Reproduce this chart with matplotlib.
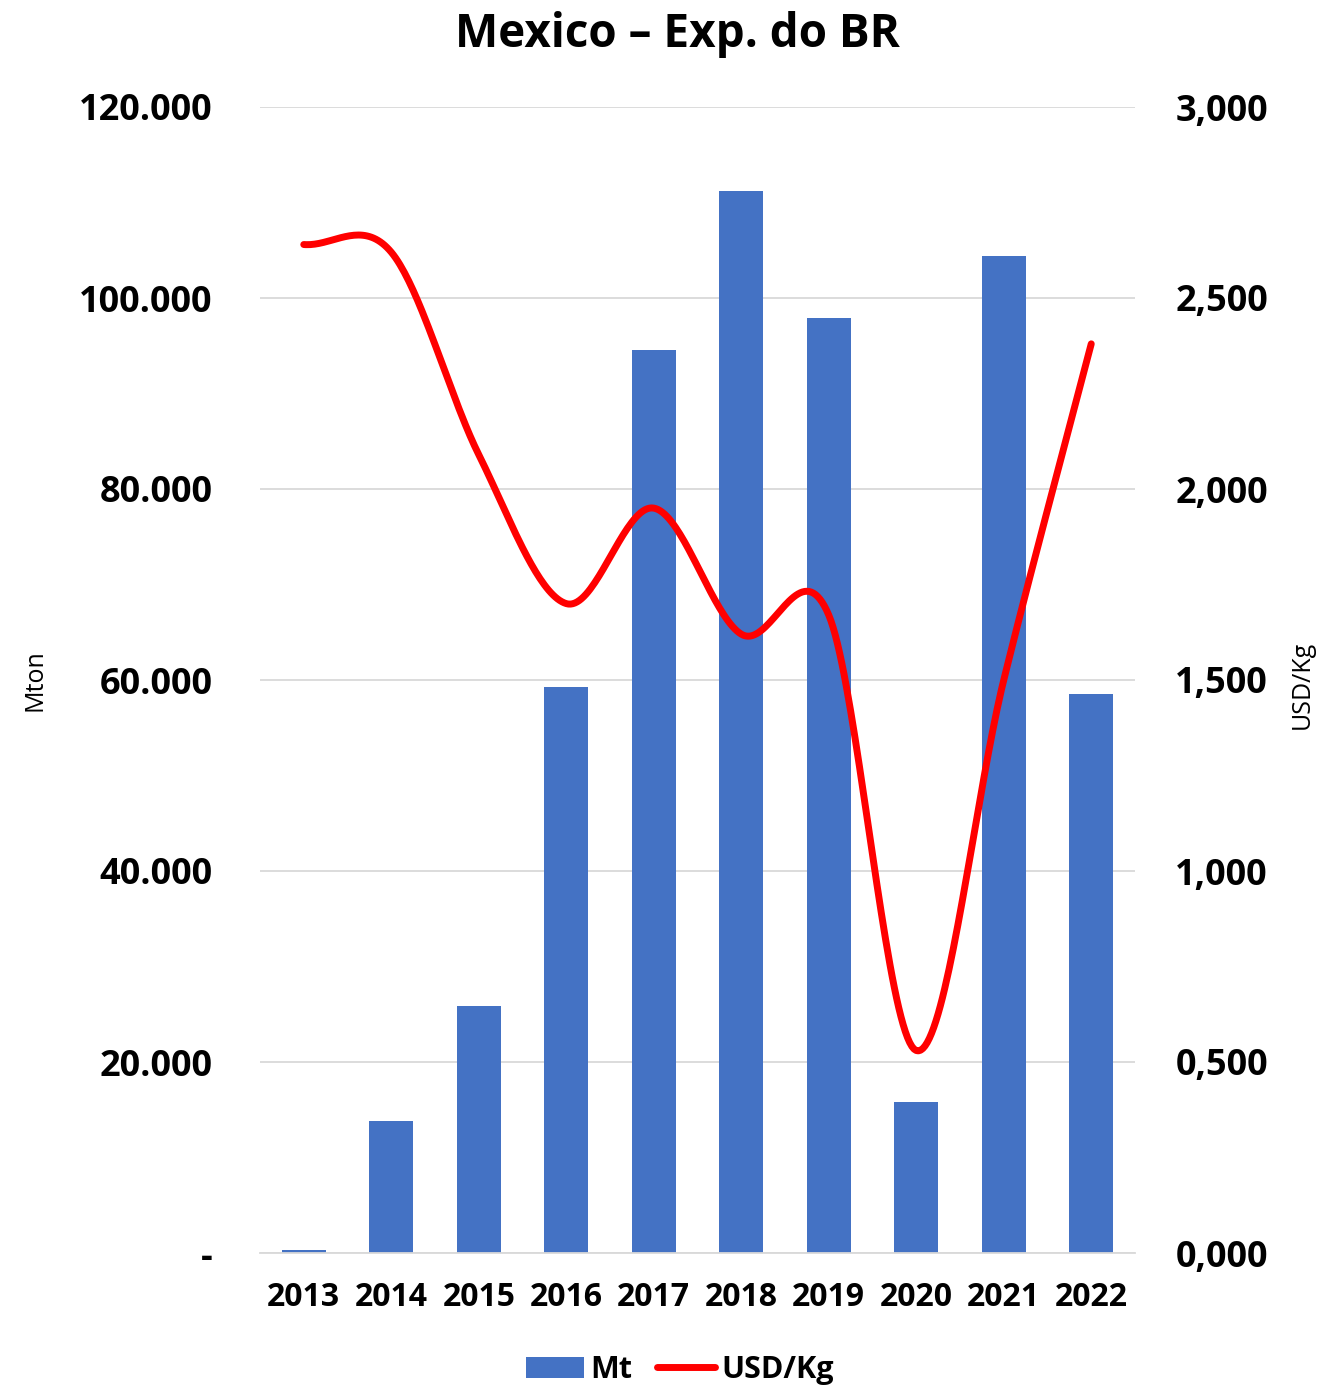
import matplotlib
matplotlib.use('Agg')
import matplotlib.pyplot as plt
from matplotlib.ticker import FuncFormatter
from matplotlib.lines import Line2D
from matplotlib.patches import Patch
import numpy as np

plt.rcParams['font.family'] = ['Open Sans', 'DejaVu Sans']

# dados
anos = ['2013', '2014', '2015', '2016', '2017', '2018', '2019', '2020', '2021', '2022']
mt = [300, 13800, 25900, 59300, 94600, 111200, 97900, 15800, 104400, 58500]
usd_kg = [2.64, 2.62, 2.09, 1.70, 1.95, 1.62, 1.67, 0.53, 1.50, 2.38]

azul = '#4472C4'
vermelho = '#FF0000'


def catmull_rom(y, n=40):
    # linha suavizada tipo Excel
    y = np.asarray(y, dtype=float)
    p = np.concatenate([[2 * y[0] - y[1]], y, [2 * y[-1] - y[-2]]])
    xs, ys = [], []
    for i in range(len(y) - 1):
        p0, p1, p2, p3 = p[i], p[i + 1], p[i + 2], p[i + 3]
        t = np.linspace(0, 1, n, endpoint=False)
        yy = 0.5 * ((2 * p1) + (-p0 + p2) * t + (2 * p0 - 5 * p1 + 4 * p2 - p3) * t ** 2
                    + (-p0 + 3 * p1 - 3 * p2 + p3) * t ** 3)
        xs.extend(i + t)
        ys.extend(yy)
    xs.append(len(y) - 1)
    ys.append(y[-1])
    return np.array(xs), np.array(ys)


fig = plt.figure(figsize=(13.23, 13.9), dpi=100)
ax = fig.add_axes([260 / 1323, 1 - 1253 / 1390, 875 / 1323, 1146 / 1390])
ax2 = ax.twinx()

x = np.arange(len(anos))
ax.bar(x, mt, width=0.5, color=azul, zorder=2)
ax.set_ylim(0, 120000)
ax.set_xlim(-0.5, len(anos) - 0.5)
ax.set_yticks(np.arange(0, 120001, 20000))
ax.yaxis.set_major_formatter(FuncFormatter(
    lambda v, p: '-' if v == 0 else f'{v:,.0f}'.replace(',', '.')))
ax.grid(axis='y', color='#D9D9D9', linewidth=1.3, zorder=0)
ax.set_axisbelow(True)
ax.set_xticks(x)
ax.set_xticklabels(anos)

xs, ys = catmull_rom(usd_kg)
ax2.plot(xs, ys, color=vermelho, linewidth=5, solid_capstyle='round', zorder=3)
ax2.set_ylim(0, 3.0)
ax2.set_yticks(np.arange(0, 3.01, 0.5))
ax2.yaxis.set_major_formatter(FuncFormatter(lambda v, p: f'{v:.3f}'.replace('.', ',')))

for a in (ax, ax2):
    for s in a.spines.values():
        s.set_visible(False)
    a.tick_params(length=0)
ax.spines['bottom'].set_visible(True)
ax.spines['bottom'].set_color('#D9D9D9')
ax.spines['bottom'].set_linewidth(1.3)

for lbl in ax.get_yticklabels() + ax2.get_yticklabels():
    lbl.set_fontsize(26)
    lbl.set_fontweight('bold')
for lbl in ax.get_xticklabels():
    lbl.set_fontsize(23)
    lbl.set_fontweight('bold')
ax.tick_params(axis='y', pad=34)
ax2.tick_params(axis='y', pad=29)
ax.tick_params(axis='x', pad=20)

fig.text(35 / 1323, 1 - 680 / 1390, 'Mton', rotation=90, fontsize=18, ha='center', va='center')
fig.text(1302 / 1323, 1 - 685 / 1390, 'USD/Kg', rotation=90, fontsize=18, ha='center', va='center')
fig.text(677 / 1323, 1 - 35 / 1390, 'Mexico – Exp. do BR', fontsize=33, fontweight='bold',
         ha='center', va='center')

handles = [Patch(facecolor=azul, label='Mt'),
           Line2D([0], [0], color=vermelho, linewidth=5, solid_capstyle='round', label='USD/Kg')]
fig.legend(handles=handles, loc='center', bbox_to_anchor=(680 / 1323, 1 - 1370 / 1390), ncol=2,
           frameon=False, prop={'size': 22, 'weight': 'bold'}, handlelength=1.9,
           handletextpad=0.2, columnspacing=0.8)

fig.savefig('out.png', dpi=100)
